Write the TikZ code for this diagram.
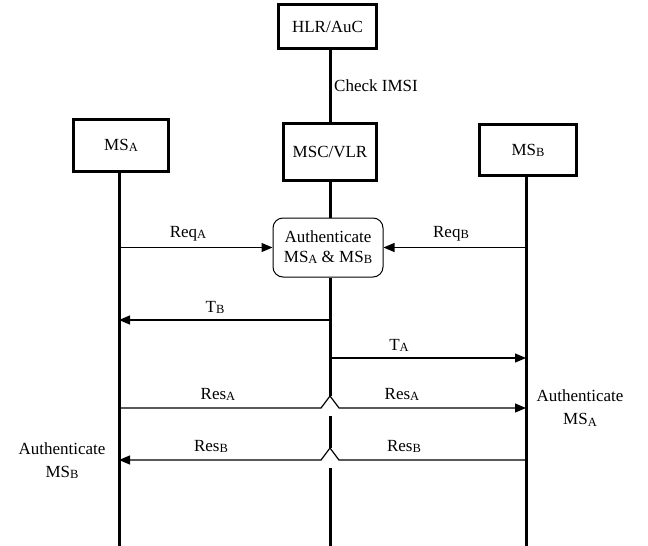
\documentclass[tikz,border=0pt]{standalone}
\usepackage{fontspec}
\setmainfont{Liberation Serif}
\usetikzlibrary{arrows.meta}
\newcommand\sbs[1]{\raisebox{-1.2pt}{\fontsize{12.5}{12.5}\selectfont #1}}
\begin{document}
\begin{tikzpicture}[x=1pt,y=-1pt,font=\fontsize{17}{20}\selectfont,
  ent/.style={draw,line width=3pt,inner sep=0pt},
  life/.style={line width=3pt},
  msg/.style={line width=1.2pt,-{Triangle[length=11pt,width=9pt]}},
  lbl/.style={inner sep=0pt,anchor=base},
  auth/.style={draw,line width=1pt,rounded corners=10pt,align=center,inner sep=0pt,minimum width=110pt,minimum height=59pt}]
\useasboundingbox (0,0) rectangle (648,546);
% entities
\node[ent,minimum width=98pt,minimum height=44pt] (hlr) at (327.5,26.5) {HLR/AuC};
\node[ent,minimum width=95pt,minimum height=52pt] (msa) at (121,145.5) {MS\sbs{A}};
\node[ent,minimum width=93pt,minimum height=57pt] (msc) at (330,152) {MSC/VLR};
\node[ent,minimum width=97pt,minimum height=51pt] (msb) at (528,150) {MS\sbs{B}};
\node[auth,font=\fontsize{17}{20}\selectfont] (au) at (328,247.5) {Authenticate\\MS\sbs{A} \& MS\sbs{B}};
% lifeline coordinates
\coordinate (aTop) at (119,173);
\coordinate (aBot) at (119,546);
\coordinate (bTop) at (526,177);
\coordinate (bBot) at (526,546);
\coordinate (c1) at (330,396);
\coordinate (c2) at (330,416);
\coordinate (c3) at (330,448);
\coordinate (c4) at (330,468);
\coordinate (cBot) at (330,546);
\draw[life] (aTop) -- (aBot);
\draw[life] (bTop) -- (bBot);
\draw[life] (hlr.south -| 330,0) -- (msc.north -| 330,0);
\draw[life] (msc.south -| 330,0) -- (au.north -| 330,0);
\draw[life] (au.south -| 330,0) -- (c1);
\draw[life] (c2) -- (c3);
\draw[life] (c4) -- (cBot);
\node[lbl,anchor=base west] (chk) at (334,91) {Check IMSI};
% messages
\coordinate (ra) at (119,247.5);
\coordinate (rb) at (526,247.5);
\draw[msg] (ra) -- (au.west);
\draw[msg] (rb) -- (au.east);
\node[lbl] (lra) at (188,237) {Req\sbs{A}};
\node[lbl] (lrb) at (451,237) {Req\sbs{B}};
\coordinate (tbS) at (330,320);
\coordinate (tbE) at (119,320);
\draw[msg] (tbS) -- (tbE);
\node[lbl] (ltb) at (215,312) {T\sbs{B}};
\coordinate (taS) at (330,358);
\coordinate (taE) at (526,358);
\draw[msg] (taS) -- (taE);
\node[lbl] (lta) at (399,350) {T\sbs{A}};
\coordinate (resaS) at (119,408);
\coordinate (resaE) at (526,408);
\draw[msg] (resaS) -- (321,408) -- (c1) -- (339,408) -- (resaE);
\node[lbl] (lra1) at (218,399) {Res\sbs{A}};
\node[lbl] (lra2) at (402,399) {Res\sbs{A}};
\coordinate (resbS) at (526,460);
\coordinate (resbE) at (119,460);
\draw[msg] (resbS) -- (339,460) -- (c3) -- (321,460) -- (resbE);
\node[lbl] (lrb1) at (211,451) {Res\sbs{B}};
\node[lbl] (lrb2) at (404,451) {Res\sbs{B}};
\node[align=center,inner sep=0pt,font=\fontsize{17}{23}\selectfont] (authA) at (580,408) {Authenticate\\MS\sbs{A}};
\node[align=center,inner sep=0pt,font=\fontsize{17}{23}\selectfont] (authB) at (62,461) {Authenticate\\MS\sbs{B}};
\end{tikzpicture}
\end{document}
